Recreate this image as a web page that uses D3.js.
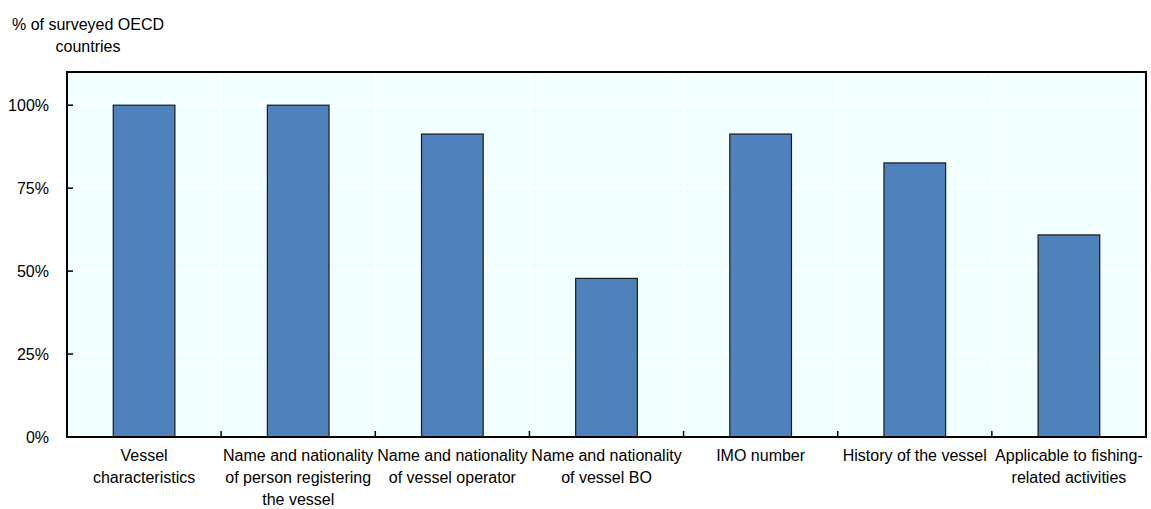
<!DOCTYPE html>
<html><head><meta charset="utf-8">
<script src="https://cdn.jsdelivr.net/npm/d3@7"></script>
<style>
html,body{margin:0;padding:0;background:#fff;}
text{font-family:"Liberation Sans",Arial,sans-serif;fill:#000;}
</style></head>
<body><svg id="chart" width="1151" height="509"></svg>
<script>
const categories = [
  "Vessel\ncharacteristics",
  "Name and nationality\nof person registering\nthe vessel",
  "Name and nationality\nof vessel operator",
  "Name and nationality\nof vessel BO",
  "IMO number",
  "History of the vessel",
  "Applicable to fishing-\nrelated activities"
];
const values = [100, 100, 91.3, 47.8, 91.3, 82.6, 60.9];
const yTicks = [0, 25, 50, 75, 100];
const yTickLabels = ["0%", "25%", "50%", "75%", "100%"];
const yTitle = ["% of surveyed OECD", "countries"];

const svg = d3.select("#chart");
const m = {left: 67, right: 1146, top: 72, bottom: 437};
const x = d3.scaleBand().domain(categories).range([m.left, m.right]).paddingInner(0.6).paddingOuter(0.3);
const xb = d3.scaleLinear().domain([0, categories.length]).range([m.left, m.right]);
const y = d3.scaleLinear().domain([0, 110]).range([m.bottom, m.top]);

// background
svg.append("rect").attr("x", m.left).attr("y", m.top).attr("width", m.right - m.left)
  .attr("height", m.bottom - m.top).attr("fill", "#f2ffff");

// gridlines
svg.append("g").selectAll("line").data(yTicks.slice(1)).join("line")
  .attr("x1", m.left).attr("x2", m.right).attr("y1", d => y(d)).attr("y2", d => y(d))
  .attr("stroke", "#fff").attr("stroke-width", 1.5);
const bounds = d3.range(1, categories.length);
svg.append("g").selectAll("line").data(bounds).join("line")
  .attr("x1", d => xb(d)).attr("x2", d => xb(d)).attr("y1", m.top).attr("y2", m.bottom)
  .attr("stroke", "#fff").attr("stroke-width", 1.5);

// bars
svg.append("g").selectAll("rect").data(values).join("rect")
  .attr("x", (d, i) => x(categories[i]))
  .attr("width", x.bandwidth())
  .attr("y", d => y(d))
  .attr("height", d => y(0) - y(d))
  .attr("fill", "#4f81bd").attr("stroke", "#1a1a1a").attr("stroke-width", 1.2);

// frame
svg.append("rect").attr("x", m.left).attr("y", m.top).attr("width", m.right - m.left)
  .attr("height", m.bottom - m.top).attr("fill", "none").attr("stroke", "#000").attr("stroke-width", 2);

// y axis
const yAxis = d3.axisLeft(y).tickValues(yTicks).tickSize(0).tickPadding(18)
  .tickFormat((d, i) => yTickLabels[i]);
const gy = svg.append("g").attr("transform", `translate(${m.left},0)`).call(yAxis);
gy.select(".domain").remove();
gy.selectAll("text").attr("font-size", 16).attr("font-family", "Liberation Sans, Arial, sans-serif");
svg.append("g").selectAll("line").data(yTicks).join("line")
  .attr("x1", m.left).attr("x2", m.left + 6).attr("y1", d => y(d)).attr("y2", d => y(d))
  .attr("stroke", "#000").attr("stroke-width", 1.5);

// x ticks (inward) at boundaries
svg.append("g").selectAll("line").data(bounds).join("line")
  .attr("x1", d => xb(d)).attr("x2", d => xb(d)).attr("y1", m.bottom).attr("y2", m.bottom - 6)
  .attr("stroke", "#000").attr("stroke-width", 1.5);

// x labels
const xl = svg.append("g").selectAll("text").data(categories).join("text")
  .attr("x", d => x(d) + x.bandwidth() / 2).attr("y", 461)
  .attr("text-anchor", "middle").attr("font-size", 16);
xl.selectAll("tspan").data(d => d.split("\n")).join("tspan")
  .attr("x", function() { return this.parentNode.getAttribute("x"); })
  .attr("dy", (d, i) => i === 0 ? 0 : 22).text(d => d);

// y title
const t = svg.append("text").attr("x", 88).attr("y", 30).attr("text-anchor", "middle").attr("font-size", 16);
t.selectAll("tspan").data(yTitle).join("tspan").attr("x", 88).attr("dy", (d, i) => i === 0 ? 0 : 22).text(d => d);
</script></body></html>
